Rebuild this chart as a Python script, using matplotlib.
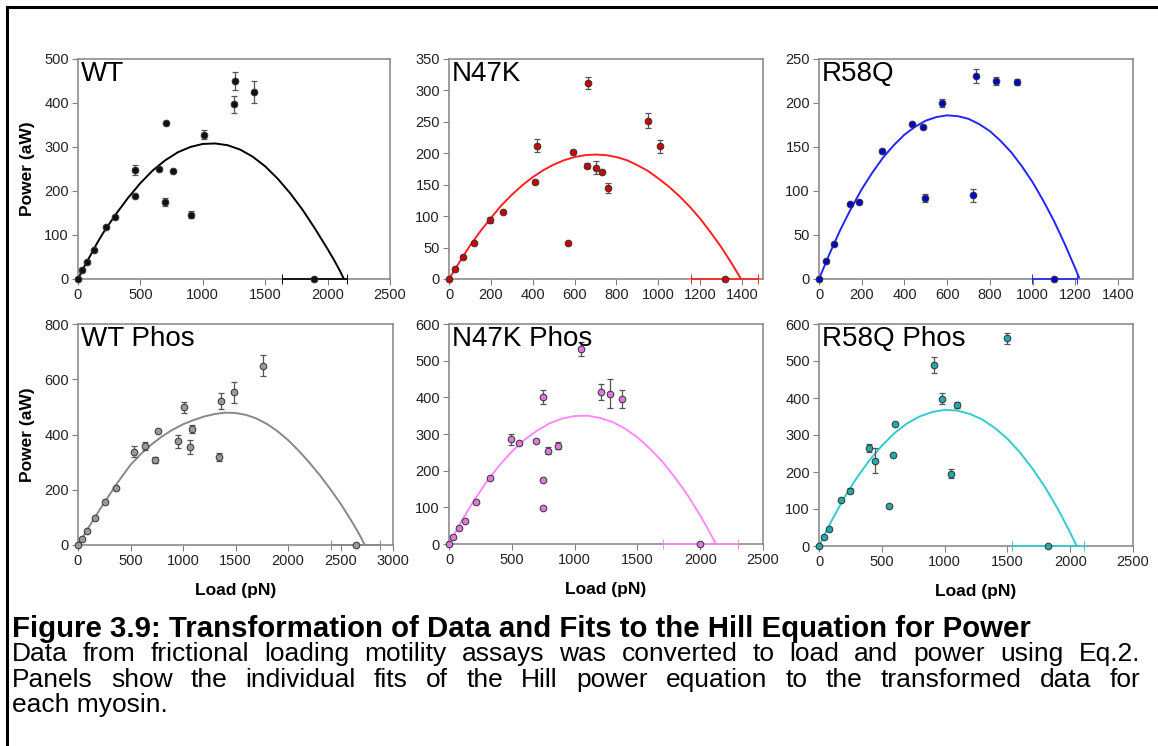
import matplotlib.pyplot as plt
import numpy as np
from matplotlib.lines import Line2D

plt.rcParams['font.family'] = ['Liberation Sans', 'DejaVu Sans']

W, H = 1158, 746

# ---- data (load in pN, power in aW) ----
wt_load = [0, 34, 74, 132, 224, 297, 455, 455, 650, 703, 697, 763, 903, 1013, 1250, 1258, 1413]
wt_power = [0, 20, 39, 65, 118, 142, 189, 248, 250, 354, 175, 245, 146, 328, 397, 450, 424]
wt_err = [0, 0, 0, 0, 0, 0, 0, 12, 0, 0, 8, 0, 8, 10, 20, 20, 25]
wt_stall = [1895, 257]
wt_fit_x = [0, 50, 100, 150, 200, 300, 400, 500, 600, 700, 800, 900, 1000, 1100, 1200, 1300, 1400, 1500,
            1600, 1700, 1800, 1900, 2000, 2050, 2100, 2130]
wt_fit_y = [0, 28, 54, 80, 104, 146, 184, 218, 247, 270, 288, 300, 307, 308, 304, 294, 278, 256,
            228, 195, 157, 114, 68, 44, 18, 0]

n47k_load = [0, 29, 66, 120, 194, 256, 413, 422, 570, 592, 659, 662, 704, 733, 760, 949, 1006]
n47k_power = [0, 16, 35, 58, 94, 107, 154, 212, 57, 202, 180, 312, 177, 170, 145, 252, 211]
n47k_err = [0, 0, 0, 0, 5, 0, 0, 10, 0, 0, 4, 10, 10, 0, 8, 12, 10]
n47k_stall = [1317, 160]
n47k_fit_x = [0, 50, 100, 150, 200, 250, 300, 350, 400, 450, 500, 550, 600, 650, 700, 750, 800,
              850, 900, 950, 1000, 1050, 1100, 1150, 1200, 1250, 1300, 1350, 1395]
n47k_fit_y = [0, 27, 53, 76, 97, 117, 134, 149, 162, 173, 182, 189, 194, 197, 198, 197, 194,
              189, 181, 172, 160, 147, 132, 115, 96, 74, 51, 25, 0]

r58q_load = [0, 31, 70, 144, 186, 293, 434, 485, 498, 577, 720, 734, 828, 926]
r58q_power = [0, 20, 40, 85, 88, 145, 176, 173, 92, 200, 95, 231, 225, 224]
r58q_err = [0, 0, 0, 0, 0, 0, 0, 0, 5, 5, 7, 8, 5, 3]
r58q_stall = [1102, 105]
r58q_fit_x = [0, 50, 100, 150, 200, 250, 300, 350, 400, 450, 500, 550, 600, 650, 700, 750, 800,
              850, 900, 950, 1000, 1050, 1100, 1150, 1200, 1220]
r58q_fit_y = [0, 29, 56, 80, 102, 121, 138, 152, 164, 173, 180, 184, 186, 185, 182, 176, 168,
              157, 144, 128, 110, 89, 66, 40, 12, 0]

wtp_load = [0, 35, 86, 159, 258, 360, 538, 636, 729, 765, 951, 1012, 1069, 1082, 1343, 1362, 1486, 1766]
wtp_power = [0, 23, 51, 97, 156, 205, 338, 359, 308, 413, 375, 499, 356, 420, 318, 521, 553, 649]
wtp_err = [0, 0, 0, 0, 0, 0, 20, 15, 12, 0, 25, 20, 25, 15, 15, 28, 38, 38]
wtp_stall = [2644, 235]
wtp_fit_x = [0, 100, 200, 300, 400, 500, 600, 700, 800, 900, 1000, 1100, 1200, 1300, 1400, 1500,
             1600, 1700, 1800, 1900, 2000, 2100, 2200, 2300, 2400, 2500, 2600, 2650, 2700, 2730]
wtp_fit_y = [0, 63, 124, 182, 238, 290, 330, 364, 393, 417, 437, 452, 465, 474, 479, 478,
             471, 458, 438, 412, 380, 342, 300, 254, 204, 150, 90, 58, 24, 0]

n47kp_load = [0, 29, 77, 128, 218, 328, 493, 554, 693, 748, 748, 748, 786, 866, 1047, 1214, 1278, 1377]
n47kp_power = [0, 18, 45, 64, 115, 179, 286, 275, 280, 401, 175, 98, 255, 268, 532, 414, 410, 396]
n47kp_err = [0, 0, 0, 0, 0, 0, 15, 0, 0, 18, 0, 0, 10, 10, 20, 22, 40, 25]
n47kp_stall = [2000, 300]
n47kp_fit_x = [0, 100, 200, 300, 400, 500, 600, 700, 800, 900, 1000, 1100, 1200, 1300, 1400,
               1500, 1600, 1700, 1800, 1900, 2000, 2050, 2100, 2125]
n47kp_fit_y = [0, 63, 119, 170, 214, 252, 284, 309, 329, 342, 349, 350, 344, 333, 315,
               291, 260, 224, 181, 133, 78, 48, 16, 0]

r58qp_load = [0, 37, 80, 173, 247, 399, 444, 555, 587, 606, 917, 981, 1050, 1100, 1494]
r58qp_power = [0, 25, 47, 124, 150, 265, 231, 109, 245, 329, 490, 398, 195, 382, 561]
r58qp_err = [0, 0, 0, 0, 8, 12, 35, 0, 0, 0, 22, 15, 12, 8, 15]
r58qp_stall = [1823, 285]
r58qp_fit_x = [0, 50, 100, 200, 300, 400, 500, 600, 700, 800, 900, 1000, 1100, 1200, 1300, 1400,
               1500, 1600, 1700, 1800, 1900, 1950, 2000, 2052]
r58qp_fit_y = [0, 35, 68, 130, 184, 231, 271, 305, 331, 350, 362, 368, 366, 357, 342, 319,
               290, 253, 209, 159, 101, 69, 36, 0]


def px_box(l, t, r, b):
    return [l / W, 1 - b / H, (r - l) / W, (b - t) / H]


fig = plt.figure(figsize=(W / 100, H / 100), dpi=100)

panels = [
    # name, box, load, power, err, stall, fit x, fit y, marker col, line col, xlim, xticks, ylim, yticks
    ("WT", (78, 59, 390, 279), wt_load, wt_power, wt_err, wt_stall, wt_fit_x, wt_fit_y,
     '#111111', '#000000', 2500, np.arange(0, 2501, 500), 500, np.arange(0, 501, 100)),
    ("N47K", (449, 59, 763, 279), n47k_load, n47k_power, n47k_err, n47k_stall, n47k_fit_x, n47k_fit_y,
     '#CC0000', '#FF2020', 1500, np.arange(0, 1401, 200), 350, np.arange(0, 351, 50)),
    ("R58Q", (819, 59, 1133, 279), r58q_load, r58q_power, r58q_err, r58q_stall, r58q_fit_x, r58q_fit_y,
     '#0000CC', '#2424FF', 1470, np.arange(0, 1401, 200), 250, np.arange(0, 251, 50)),
    ("WT Phos", (78, 324, 393, 545), wtp_load, wtp_power, wtp_err, wtp_stall, wtp_fit_x, wtp_fit_y,
     '#9A9A9A', '#888888', 3000, np.arange(0, 3001, 500), 800, np.arange(0, 801, 200)),
    ("N47K Phos", (449, 324, 763, 544), n47kp_load, n47kp_power, n47kp_err, n47kp_stall, n47kp_fit_x, n47kp_fit_y,
     '#DD77DD', '#FF88FF', 2500, np.arange(0, 2501, 500), 600, np.arange(0, 601, 100)),
    ("R58Q Phos", (819, 324, 1133, 546), r58qp_load, r58qp_power, r58qp_err, r58qp_stall, r58qp_fit_x, r58qp_fit_y,
     '#22AAAA', '#33CCCC', 2500, np.arange(0, 2501, 500), 600, np.arange(0, 601, 100)),
]

for i, (name, box, x, y, err, stall, fx, fy, mcol, lcol, xmax, xt, ymax, yt) in enumerate(panels):
    ax = fig.add_axes(px_box(*box))
    x = np.array(x)
    y = np.array(y)
    err = np.array(err)
    m = err > 0

    ax.plot(fx, fy, color=lcol, lw=1.4, zorder=2)
    ax.errorbar(x[m], y[m], yerr=err[m], fmt='none', ecolor='#555555',
                elinewidth=0.9, capsize=2.5, capthick=0.9, zorder=3)
    ax.plot(x, y, 'o', mfc=mcol, mec='#333333', ms=4.8, mew=0.7, zorder=4, clip_on=False)
    # stall force point with horizontal error
    ax.errorbar([stall[0]], [0], xerr=[stall[1]], fmt='o', color=lcol, mfc=mcol, mec='#333333',
                ms=4.8, mew=0.7, elinewidth=1.2, capsize=3.5, capthick=1.2, zorder=5, clip_on=False)

    ax.set_xlim(0, xmax)
    ax.set_ylim(0, ymax)
    ax.set_xticks(xt)
    ax.set_yticks(yt)
    for s in ax.spines.values():
        s.set_color('#8C8C8C')
        s.set_linewidth(1.2)
    ax.tick_params(direction='out', length=4, width=0.8, color='#808080',
                   labelsize=10.5, labelcolor='#222222', pad=2.5)

    ax.text(0.008, 0.99, name, transform=ax.transAxes, ha='left', va='top', fontsize=20)

    if i % 3 == 0:
        ax.set_ylabel("Power (aW)", fontsize=12.5, fontweight='bold', labelpad=7)
    if i >= 3:
        ax.set_xlabel("Load (pN)", fontsize=12.5, fontweight='bold', labelpad=11)

# outer frame (top and left edges)
fig.add_artist(Line2D([7 / W, 1], [1 - 7 / H, 1 - 7 / H], transform=fig.transFigure, color='black', lw=2.2))
fig.add_artist(Line2D([7 / W, 7 / W], [0, 1 - 7 / H], transform=fig.transFigure, color='black', lw=2.2))

# caption
CAP_B = 21.2
CAP = 19
fig.text(12 / W, 1 - 629 / H, "Figure 3.9: Transformation of Data and Fits to the Hill Equation for Power",
         fontsize=CAP_B, fontweight='bold', va='center')

rend = fig.canvas.get_renderer()


def justified(line, y_px):
    words = line.split()
    widths = []
    for w in words:
        t = fig.text(0, 0, w, fontsize=CAP)
        widths.append(t.get_window_extent(rend).width)
        t.remove()
    gap = (1140 - 12 - sum(widths)) / (len(words) - 1)
    xp = 12
    for w, wd in zip(words, widths):
        fig.text(xp / W, 1 - y_px / H, w, fontsize=CAP, va='center')
        xp += wd + gap


justified("Data from frictional loading motility assays was converted to load and power using Eq.2.", 654)
justified("Panels show the individual fits of the Hill power equation to the transformed data for", 680)
fig.text(12 / W, 1 - 705 / H, "each myosin.", fontsize=CAP, va='center')

fig.savefig("out.png", dpi=100)
